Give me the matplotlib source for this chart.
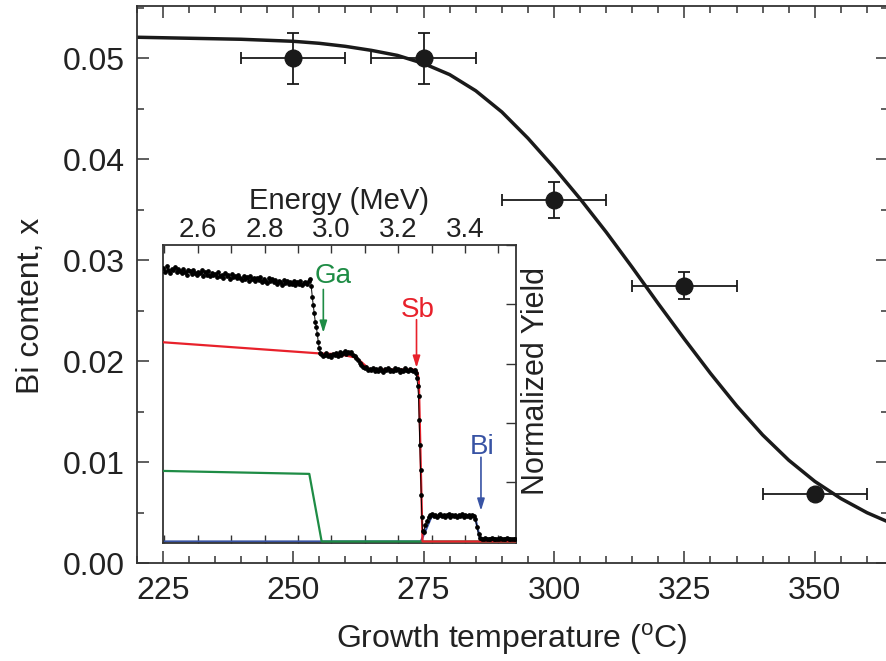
import numpy as np
import matplotlib
matplotlib.use('Agg')
import matplotlib.pyplot as plt
from matplotlib.ticker import MultipleLocator

plt.rcParams['font.family'] = ['Liberation Sans', 'DejaVu Sans']
plt.rcParams['mathtext.fontset'] = 'custom'
plt.rcParams['mathtext.rm'] = 'Liberation Sans'

# main panel: Bi content vs growth temperature
temps = [250, 275, 300, 325, 350]
bi = [0.050, 0.050, 0.036, 0.0275, 0.0069]
temp_err = [10, 10, 10, 10, 10]
bi_err = [0.0025, 0.0025, 0.0018, 0.00135, 0.0004]

# fitted curve
curve_T = [220, 230, 240, 245, 250, 255, 260, 265, 270, 275, 280, 285, 290, 295,
           300, 305, 310, 315, 320, 325, 330, 335, 340, 345, 350, 355, 360, 364]
curve_x = [0.0521, 0.0520, 0.0519, 0.0518, 0.0517, 0.0515, 0.0512, 0.0508, 0.0503,
           0.0495, 0.0484, 0.0468, 0.0447, 0.0421, 0.0392, 0.0361, 0.0328, 0.0293,
           0.0257, 0.0222, 0.0188, 0.0156, 0.0127, 0.0102, 0.0081, 0.0064, 0.0050,
           0.0041]

# inset: RBS spectrum (normalized yield vs energy)
plateau1_yield = [
    4.62, 4.55, 4.64, 4.58, 4.52, 4.60, 4.57, 4.63, 4.54, 4.59, 4.56,
    4.53, 4.60, 4.55, 4.50, 4.58, 4.56, 4.51, 4.57, 4.53, 4.49, 4.55,
    4.52, 4.57, 4.48, 4.54, 4.50, 4.56, 4.47, 4.53, 4.49, 4.51, 4.46,
    4.54, 4.48, 4.50, 4.45, 4.52, 4.47, 4.49, 4.43, 4.51, 4.46, 4.48,
    4.44, 4.50, 4.45, 4.41, 4.48, 4.43, 4.46, 4.40, 4.47, 4.42, 4.45,
    4.39, 4.44, 4.41, 4.46, 4.38, 4.43, 4.40, 4.36, 4.44, 4.39, 4.42,
    4.37, 4.41, 4.35, 4.40, 4.38, 4.33, 4.41, 4.36, 4.39, 4.34, 4.38,
    4.35, 4.40, 4.33, 4.37, 4.34, 4.39, 4.32, 4.36, 4.38, 4.35, 4.40]
ga_edge_energy = [2.937, 2.940, 2.943, 2.946, 2.949, 2.952, 2.955, 2.958, 2.961, 2.964, 2.967]
ga_edge_yield = [4.42, 4.30, 4.12, 3.98, 3.85, 3.70, 3.62, 3.50, 3.36, 3.26, 3.18]
plateau2_yield = [
    3.16, 3.12, 3.14, 3.18, 3.13, 3.15, 3.11, 3.16, 3.14, 3.17, 3.13,
    3.19, 3.15, 3.18, 3.21, 3.16, 3.19, 3.17, 3.20, 3.15, 3.12, 3.10,
    3.06, 3.01, 2.97, 2.95, 2.92, 2.94, 2.90, 2.91,
    2.89, 2.93, 2.88, 2.91, 2.87, 2.92, 2.90, 2.86, 2.91, 2.89, 2.93,
    2.88, 2.90, 2.87, 2.92, 2.89, 2.91, 2.86, 2.90, 2.88, 2.92, 2.89,
    2.87, 2.91, 2.90, 2.88, 2.89]
sb_edge_energy = [3.253, 3.256, 3.259, 3.261, 3.263, 3.265, 3.267, 3.269, 3.271, 3.273]
sb_edge_yield = [2.84, 2.75, 2.62, 2.45, 2.05, 1.62, 1.20, 0.78, 0.42, 0.18]
bi_region_yield = [
    0.16, 0.27, 0.35, 0.41, 0.44,
    0.46, 0.43, 0.45, 0.42, 0.44, 0.47, 0.43, 0.45, 0.41, 0.44, 0.46, 0.42, 0.45,
    0.43, 0.44, 0.41, 0.45, 0.43, 0.46, 0.42, 0.44, 0.43, 0.45, 0.42, 0.44, 0.43,
    0.38, 0.25, 0.12, 0.06,
    0.05, 0.04, 0.06, 0.05, 0.04, 0.05, 0.06, 0.04, 0.05, 0.05, 0.04, 0.06, 0.05,
    0.04, 0.05, 0.06, 0.04, 0.05, 0.05, 0.04, 0.05]

spec_energy = np.concatenate([np.arange(2.497, 2.934, 0.005), ga_edge_energy,
                              np.arange(2.970, 3.252, 0.005), sb_edge_energy,
                              np.arange(3.276, 3.553, 0.005)])
spec_yield = np.concatenate([plateau1_yield, ga_edge_yield, plateau2_yield,
                             sb_edge_yield, bi_region_yield])

# simulated element contributions
sb_sim_E = [2.495, 2.968, 3.02, 3.075, 3.115, 3.250, 3.258, 3.262, 3.273, 3.552]
sb_sim_Y = [3.36, 3.17, 3.16, 3.10, 2.90, 2.90, 2.85, 2.70, 0.0, 0.0]
ga_sim_E = [2.495, 2.934, 2.971, 3.552]
ga_sim_Y = [1.19, 1.14, 0.0, 0.0]
bi_sim_E = [2.495, 3.268, 3.300, 3.430, 3.447, 3.552]
bi_sim_Y = [0.0, 0.0, 0.42, 0.42, 0.0, 0.0]

red = '#e8212b'
green = '#1e8c45'
blue = '#3853a4'
dark = '#1a1a1a'

fig = plt.figure(figsize=(8.87, 6.61), dpi=100)
ax = fig.add_axes([0.154, 0.148, 0.847, 0.843])

ax.plot(curve_T, curve_x, color=dark, lw=2.5, zorder=2, solid_joinstyle='round')
ax.errorbar(temps, bi, xerr=temp_err, yerr=bi_err, fmt='o', color=dark, ms=12,
            elinewidth=1.3, capsize=4.5, capthick=1.3, zorder=3)

ax.set_xlim(220, 364)
ax.set_ylim(0, 0.0552)
ax.xaxis.set_major_locator(MultipleLocator(25))
ax.xaxis.set_minor_locator(MultipleLocator(5))
ax.yaxis.set_major_locator(MultipleLocator(0.01))
ax.yaxis.set_minor_locator(MultipleLocator(0.005))
ax.tick_params(which='both', direction='in', top=True, right=True,
               width=1.1, color='#333333', labelsize=23, labelcolor='#222222')
ax.tick_params(which='major', length=8.5)
ax.tick_params(which='minor', length=5)
ax.tick_params(axis='x', pad=9.5)
ax.tick_params(axis='y', pad=8.5)
for s in ax.spines.values():
    s.set_linewidth(1.3)
    s.set_color('#333333')

ax.set_xlabel('Growth temperature ($^{\\rm o}$C)', fontsize=23, color='#222222', labelpad=11)
ax.set_ylabel('Bi content, x', fontsize=23, color='#222222', labelpad=12)
ax.yaxis.label.set_y(0.461)

# inset
ax_in = fig.add_axes([0.1834, 0.179, 0.398, 0.4504])
ax_in.set_facecolor('white')
ax_in.plot(bi_sim_E, bi_sim_Y, color=blue, lw=1.6, zorder=2)
ax_in.plot(ga_sim_E, ga_sim_Y, color=green, lw=1.6, zorder=3)
ax_in.plot(sb_sim_E, sb_sim_Y, color=red, lw=1.6, zorder=4)
ax_in.plot(spec_energy, spec_yield, color='black', lw=0.7, marker='o', ms=2.4,
           zorder=5)

ax_in.set_xlim(2.495, 3.552)
ax_in.set_ylim(-0.02, 5)
ax_in.xaxis.tick_top()
ax_in.xaxis.set_label_position('top')
ax_in.xaxis.set_major_locator(MultipleLocator(0.2))
ax_in.xaxis.set_minor_locator(MultipleLocator(0.1))
ax_in.tick_params(axis='x', which='both', direction='in', top=True, bottom=True,
                  labeltop=True, labelbottom=False, length=6, width=1.0,
                  labelsize=20, pad=1.5, color='#333333', labelcolor='#222222')
ax_in.yaxis.set_major_locator(MultipleLocator(1))
ax_in.tick_params(axis='y', which='both', direction='in', left=False, right=True,
                  labelleft=False, labelright=False, length=7, width=1.0,
                  color='#333333')
for s in ax_in.spines.values():
    s.set_linewidth(1.3)
    s.set_color('#333333')

ax_in.set_xlabel('Energy (MeV)', fontsize=21, color='#222222', labelpad=6)
ax_in.yaxis.set_label_position('right')
ax_in.set_ylabel('Normalized Yield', fontsize=22, color='#222222', labelpad=4)
ax_in.yaxis.label.set_y(0.543)

arrow_style = '-|>,head_length=0.7,head_width=0.22'
ax_in.annotate('', xy=(2.976, 3.52), xytext=(2.976, 4.25),
               arrowprops=dict(arrowstyle=arrow_style, color=green, lw=1.2,
                               shrinkA=0, shrinkB=0), zorder=6)
ax_in.text(3.004, 4.47, 'Ga', color=green, ha='center', va='center', fontsize=20)
ax_in.annotate('', xy=(3.255, 2.93), xytext=(3.255, 3.74),
               arrowprops=dict(arrowstyle=arrow_style, color=red, lw=1.2,
                               shrinkA=0, shrinkB=0), zorder=6)
ax_in.text(3.260, 3.91, 'Sb', color=red, ha='center', va='center', fontsize=20)
ax_in.annotate('', xy=(3.448, 0.52), xytext=(3.448, 1.42),
               arrowprops=dict(arrowstyle=arrow_style, color=blue, lw=1.2,
                               shrinkA=0, shrinkB=0), zorder=6)
ax_in.text(3.450, 1.59, 'Bi', color=blue, ha='center', va='center', fontsize=20)

fig.savefig('out.png', dpi=100)
